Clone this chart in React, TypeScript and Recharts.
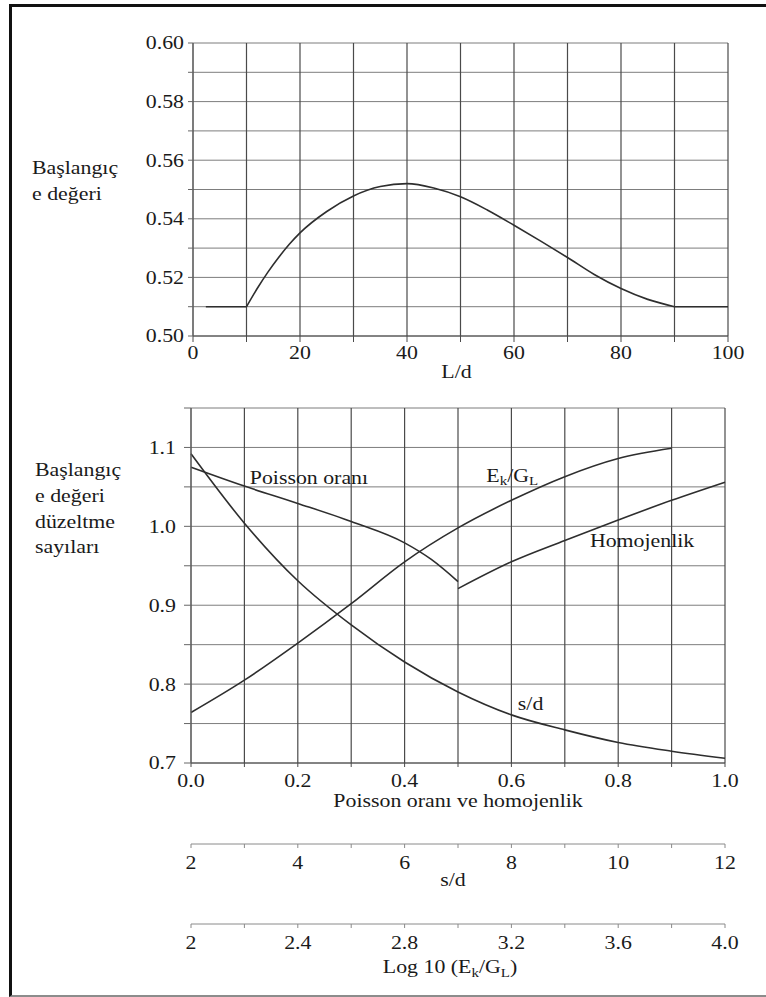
import React from "react";
import { LineChart, Line, XAxis, YAxis, CartesianGrid, ReferenceDot } from "recharts";

const SERIF = '"Liberation Serif", "Times New Roman", serif';
const INK = "#2e2e2e";
const TEXT = "#1a1a1a";
const FONT = 19;
const STRETCH = 1.15;

// upper chart: starting e value against L/d
const shoulderLeftLd = [2.4, 10];
const shoulderLeftE = [0.51, 0.51];
const rampLd = [10, 12, 14, 16, 18, 20, 25, 30, 35, 40, 45, 50, 55, 60, 65, 70, 75, 80, 85, 90];
const rampE = [0.51, 0.5162, 0.5218, 0.5268, 0.5313, 0.5352, 0.5425, 0.5478, 0.551, 0.552, 0.5505, 0.5475, 0.543, 0.5378, 0.5324, 0.5268, 0.521, 0.5162, 0.5125, 0.51];
const shoulderRightLd = [90, 100];
const shoulderRightE = [0.51, 0.51];

const ldTicks = [0, 10, 20, 30, 40, 50, 60, 70, 80, 90, 100];
const ldLabels = [0, 20, 40, 60, 80, 100];
const eTicks = [0.5, 0.51, 0.52, 0.53, 0.54, 0.55, 0.56, 0.57, 0.58, 0.59, 0.6];
const eLabels = [0.5, 0.52, 0.54, 0.56, 0.58, 0.6];

// lower chart: correction factors
const poissonX = [0, 0.1, 0.2, 0.3, 0.4, 0.45, 0.5];
const poissonY = [1.075, 1.051, 1.029, 1.006, 0.979, 0.958, 0.93];
const homogenX = [0.5, 0.6, 0.7, 0.8, 0.9, 1.0];
const homogenY = [0.921, 0.955, 0.982, 1.008, 1.033, 1.056];
const ekglX = [0, 0.1, 0.2, 0.3, 0.4, 0.5, 0.6, 0.7, 0.8, 0.9];
const ekglY = [0.764, 0.805, 0.852, 0.902, 0.955, 0.998, 1.033, 1.063, 1.086, 1.099];
const sdX = [0, 0.1, 0.2, 0.3, 0.4, 0.5, 0.6, 0.7, 0.8, 0.9, 1.0];
const sdY = [1.092, 1.004, 0.931, 0.875, 0.828, 0.79, 0.761, 0.742, 0.726, 0.715, 0.706];

const ratioTicks = [0, 0.1, 0.2, 0.3, 0.4, 0.5, 0.6, 0.7, 0.8, 0.9, 1.0];
const ratioLabels = [0, 0.2, 0.4, 0.6, 0.8, 1.0];
const corrTicks = [0.7, 0.75, 0.8, 0.85, 0.9, 0.95, 1.0, 1.05, 1.1, 1.15];
const corrLabels = [0.7, 0.8, 0.9, 1.0, 1.1];
const sdTicks = [2, 3, 4, 5, 6, 7, 8, 9, 10, 11, 12];
const sdLabels = [2, 4, 6, 8, 10, 12];
const logTicks = [2, 2.2, 2.4, 2.6, 2.8, 3.0, 3.2, 3.4, 3.6, 3.8, 4.0];
const logLabelValues = [2, 2.4, 2.8, 3.2, 3.6, 4.0];
const logLabelText = ["2", "2.4", "2.8", "3.2", "3.6", "4.0"];

// rows for the two secondary scales under the lower chart
const scaleRows = sdTicks.map((s, i) => ({ sd: s, log: logTicks[i] }));

const pts = (xs: number[], ys: number[]) => xs.map((x, i) => ({ x, y: ys[i] }));
const near = (a: number, b: number) => Math.abs(a - b) < 1e-6;

// Times-like text, slightly widened
function SText({ x, y, anchor = "start", size = FONT, children }: any) {
  return (
    <text
      transform={`translate(${x},${y}) scale(${STRETCH},1)`}
      textAnchor={anchor}
      dominantBaseline="central"
      style={{ fontFamily: SERIF, fontSize: size }}
      fill={TEXT}
    >
      {children}
    </text>
  );
}

const makeTick = (labels: number[], fmt: (v: number, i: number) => string, anchor: string) => (props: any) => {
  const { x, y, payload } = props;
  const i = labels.findIndex((l) => near(l, payload.value));
  if (i < 0) return <g />;
  return <SText x={x} y={y} anchor={anchor}>{fmt(payload.value, i)}</SText>;
};

const axisTitle = (text: React.ReactNode, dy: number, dx = 0) => (p: any) => {
  const vb = p.viewBox;
  return <SText x={vb.x + vb.width / 2 + dx} y={vb.y + dy} anchor="middle">{text}</SText>;
};

const sideTitle = (lines: string[], dx: number, dy: number) => (p: any) => {
  const vb = p.viewBox;
  return (
    <g>
      {lines.map((t, i) => (
        <SText key={i} x={vb.x + dx} y={vb.y + dy + i * 25.6}>{t}</SText>
      ))}
    </g>
  );
};

const inPlot = (content: React.ReactNode) => (p: any) => {
  const vb = p.viewBox;
  return <SText x={vb.x} y={vb.y}>{content}</SText>;
};

const EkGl = () => (
  <>
    E<tspan fontSize={13} dy={5}>k</tspan>
    <tspan dy={-5}>/G</tspan>
    <tspan fontSize={13} dy={5}>L</tspan>
  </>
);

const curve = { stroke: INK, strokeWidth: 1.6, dot: false, isAnimationActive: false } as const;

function UpperChart() {
  return (
    <LineChart width={766} height={400} margin={{ top: 43, right: 38, bottom: 24, left: 133 }}>
      <CartesianGrid vertical={false} stroke="#7d7d7d" />
      <CartesianGrid horizontal={false} stroke="#4a4a4a" strokeWidth={1.2} />
      <XAxis
        dataKey="x"
        type="number"
        domain={[0, 100]}
        ticks={ldTicks}
        height={40}
        tickSize={6}
        tickMargin={11}
        stroke="#4a4a4a"
        tick={makeTick(ldLabels, (v) => String(v), "middle")}
        label={axisTitle("L/d", 36, -4)}
      />
      <YAxis
        type="number"
        domain={[0.5, 0.6]}
        ticks={eTicks}
        width={60}
        tickSize={5}
        tickMargin={4}
        stroke="#666"
        tick={makeTick(eLabels, (v) => v.toFixed(2), "end")}
        label={sideTitle(["Başlangıç", "e değeri"], -101, 125)}
      />
      <Line data={pts(shoulderLeftLd, shoulderLeftE)} dataKey="y" type="linear" {...curve} />
      <Line data={pts(rampLd, rampE)} dataKey="y" type="monotone" {...curve} />
      <Line data={pts(shoulderRightLd, shoulderRightE)} dataKey="y" type="linear" {...curve} />
    </LineChart>
  );
}

function LowerChart() {
  return (
    <LineChart width={766} height={607} data={scaleRows} margin={{ top: 18, right: 41, bottom: 13, left: 131 }}>
      <CartesianGrid vertical={false} stroke="#7d7d7d" />
      <CartesianGrid horizontal={false} stroke="#4a4a4a" strokeWidth={1.2} />
      <XAxis
        dataKey="x"
        type="number"
        domain={[0, 1]}
        ticks={ratioTicks}
        height={81}
        tickSize={4}
        tickMargin={14}
        stroke="#4a4a4a"
        tick={makeTick(ratioLabels, (v) => v.toFixed(1), "middle")}
        label={axisTitle("Poisson oranı ve homojenlik", 38, 0)}
      />
      <XAxis
        xAxisId={1}
        dataKey="sd"
        type="number"
        domain={[2, 12]}
        ticks={sdTicks}
        height={80}
        tickSize={4}
        tickMargin={15}
        stroke="#8a8a8a"
        tick={makeTick(sdLabels, (v) => String(v), "middle")}
        label={axisTitle("s/d", 36, -5)}
      />
      <XAxis
        xAxisId={2}
        dataKey="log"
        type="number"
        domain={[2, 4]}
        ticks={logTicks}
        height={60}
        tickSize={4}
        tickMargin={15}
        stroke="#8a8a8a"
        tick={makeTick(logLabelValues, (_v, i) => logLabelText[i], "middle")}
        label={axisTitle(<>Log 10 (<EkGl /><tspan dy={-5}>)</tspan></>, 43, -8)}
      />
      <YAxis
        type="number"
        domain={[0.7, 1.15]}
        ticks={corrTicks}
        width={60}
        tickSize={7}
        tickMargin={8}
        stroke="#666"
        tick={makeTick(corrLabels, (v) => v.toFixed(1), "end")}
        label={sideTitle(["Başlangıç", "e değeri", "düzeltme", "sayıları"], -96, 62)}
      />
      <Line data={pts(poissonX, poissonY)} dataKey="y" type="monotone" {...curve} />
      <Line data={pts(homogenX, homogenY)} dataKey="y" type="monotone" {...curve} />
      <Line data={pts(ekglX, ekglY)} dataKey="y" type="monotone" {...curve} />
      <Line data={pts(sdX, sdY)} dataKey="y" type="monotone" {...curve} />
      <ReferenceDot x={0.11} y={1.062} r={0} stroke="none" label={inPlot("Poisson oranı")} />
      <ReferenceDot x={0.553} y={1.064} r={0} stroke="none" label={inPlot(<EkGl />)} />
      <ReferenceDot x={0.747} y={0.982} r={0} stroke="none" label={inPlot("Homojenlik")} />
      <ReferenceDot x={0.612} y={0.776} r={0} stroke="none" label={inPlot("s/d")} />
    </LineChart>
  );
}

export default function App() {
  return (
    <div style={{ position: "absolute", left: 0, top: 0, width: 766, height: 997, background: "#fff", overflow: "hidden" }}>
      <div
        style={{
          position: "absolute",
          left: 9,
          top: 4,
          width: 757,
          height: 993,
          boxSizing: "border-box",
          borderLeft: "3px solid #111",
          borderTop: "3px solid #111",
          borderBottom: "2px solid #8c8c8c",
        }}
      />
      <div style={{ position: "absolute", left: 0, top: 0 }}>
        <UpperChart />
      </div>
      <div style={{ position: "absolute", left: 0, top: 390 }}>
        <LowerChart />
      </div>
    </div>
  );
}
